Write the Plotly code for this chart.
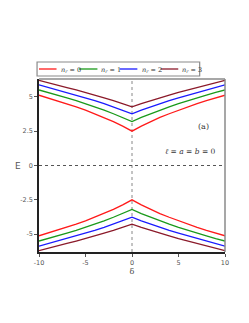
import plotly.graph_objects as go

# delta values (x axis)
delta = [-10, -9, -8, -7, -6, -5, -4, -3, -2, -1, 0, 1, 2, 3, 4, 5, 6, 7, 8, 9, 10]

# Positive energy branch E(|delta|) for |delta| = 0..10
E_n0 = [2.50, 2.87, 3.20, 3.50, 3.77, 4.03, 4.27, 4.50, 4.72, 4.92, 5.12]
E_n1 = [3.20, 3.50, 3.77, 4.03, 4.27, 4.50, 4.72, 4.92, 5.12, 5.32, 5.50]
E_n2 = [3.77, 4.03, 4.27, 4.50, 4.72, 4.92, 5.12, 5.32, 5.50, 5.68, 5.87]
E_n3 = [4.27, 4.50, 4.72, 4.92, 5.12, 5.32, 5.50, 5.68, 5.87, 6.04, 6.20]

series = [E_n0, E_n1, E_n2, E_n3]
labels = ["0", "1", "2", "3"]
colors = ["#ff1a1a", "#1a9a1a", "#1a1aff", "#8b1a2a"]

x_ticks = [-10, -5, 0, 5, 10]
x_tick_text = ["-10", "-5", "0", "5", "10"]
y_ticks = [-5, -2.5, 0, 2.5, 5]
y_tick_text = ["-5", "-2.5", "0", "2.5", "5"]

fig = go.Figure()


def full_curve(vals):
    # symmetric in delta: left half mirrors right half
    return vals[:0:-1] + vals


for vals, col in zip(series, colors):
    ypos = full_curve(vals)
    fig.add_trace(go.Scatter(x=delta, y=ypos, mode="lines",
                             line=dict(color=col, width=1.3), showlegend=False,
                             hoverinfo="skip"))
    fig.add_trace(go.Scatter(x=delta, y=[-v for v in ypos], mode="lines",
                             line=dict(color=col, width=1.3), showlegend=False,
                             hoverinfo="skip"))

# page has an 8px body margin; geometry below is in page pixels
OFF = 8
W, H = 249 - 2 * OFF, 323 - 2 * OFF
L, R, T, B = 37 - OFF, 228 - OFF, 79 - OFF, 252 - OFF


def px(xp):
    return (xp - OFF - L) / (R - L)


def py(yp):
    return (B - (yp - OFF)) / (B - T)


shapes = []
# dotted zero lines
shapes.append(dict(type="line", xref="x", yref="paper", x0=0, x1=0, y0=0, y1=1,
                   line=dict(color="#888888", width=1, dash="dot"), layer="below"))
shapes.append(dict(type="line", xref="paper", yref="y", x0=0, x1=1, y0=0, y1=0,
                   line=dict(color="#555555", width=1, dash="dot"), layer="below"))
# gray frame top/right
shapes.append(dict(type="line", xref="paper", yref="paper", x0=0, x1=1, y0=1, y1=1,
                   line=dict(color="#8a8a8a", width=1.5)))
shapes.append(dict(type="line", xref="paper", yref="paper", x0=1, x1=1, y0=0, y1=1,
                   line=dict(color="#8a8a8a", width=1.5)))

# manual legend
shapes.append(dict(type="rect", xref="paper", yref="paper",
                   x0=px(35), x1=px(202), y0=py(76), y1=py(62),
                   line=dict(color="#8a8a8a", width=1.2), fillcolor="white"))
leg_line_x = [(37, 55), (78, 97), (120, 138), (162, 180)]
leg_text_x = [58, 99, 141, 182]
annotations = []
for (a, b), tx, col, lab in zip(leg_line_x, leg_text_x, colors, labels):
    shapes.append(dict(type="line", xref="paper", yref="paper",
                       x0=px(a), x1=px(b), y0=py(69), y1=py(69),
                       line=dict(color=col, width=1.3)))
    annotations.append(dict(xref="paper", yref="paper", x=px(tx), y=py(69.5),
                            text="<i>n</i><sub><i>r</i></sub> = " + lab,
                            showarrow=False, xanchor="left", yanchor="middle",
                            font=dict(family="DejaVu Serif", size=6.5, color="#333")))

annotations.append(dict(xref="x", yref="y", x=7.7, y=2.83, text="(a)", showarrow=False,
                        font=dict(family="DejaVu Serif", size=8, color="#333")))
annotations.append(dict(xref="x", yref="y", x=6.3, y=1.0,
                        text="<i>ℓ</i> = <i>a</i> = <i>b</i> = 0", showarrow=False,
                        font=dict(family="DejaVu Serif", size=7.5, color="#333")))
annotations.append(dict(xref="paper", yref="y", x=px(15.5), y=0, text="E", showarrow=False,
                        xanchor="center", yanchor="middle",
                        font=dict(family="DejaVu Sans", size=9, color="#555")))

fig.update_layout(
    width=W, height=H,
    margin=dict(l=L, r=W - R, t=T, b=H - B, pad=0),
    paper_bgcolor="white", plot_bgcolor="white",
    shapes=shapes, annotations=annotations,
    showlegend=False,
    font=dict(family="DejaVu Sans", size=6, color="#555"),
)
fig.update_xaxes(range=[-10, 10], tickvals=x_ticks, ticktext=x_tick_text,
                 showgrid=False, zeroline=False, showline=True, linecolor="#222",
                 linewidth=1.5, ticks="outside", ticklen=3, tickcolor="#555",
                 tickfont=dict(size=6.5, color="#555"),
                 title=dict(text="δ", standoff=1,
                            font=dict(family="DejaVu Serif", size=8, color="#444")))
fig.update_yaxes(range=[-6.3, 6.3], tickvals=y_ticks, ticktext=y_tick_text,
                 showgrid=False, zeroline=False, showline=True, linecolor="#222",
                 linewidth=1.5, ticks="outside", ticklen=3, tickcolor="#555",
                 tickfont=dict(size=6.5, color="#555"))

fig.write_html("out.html")
